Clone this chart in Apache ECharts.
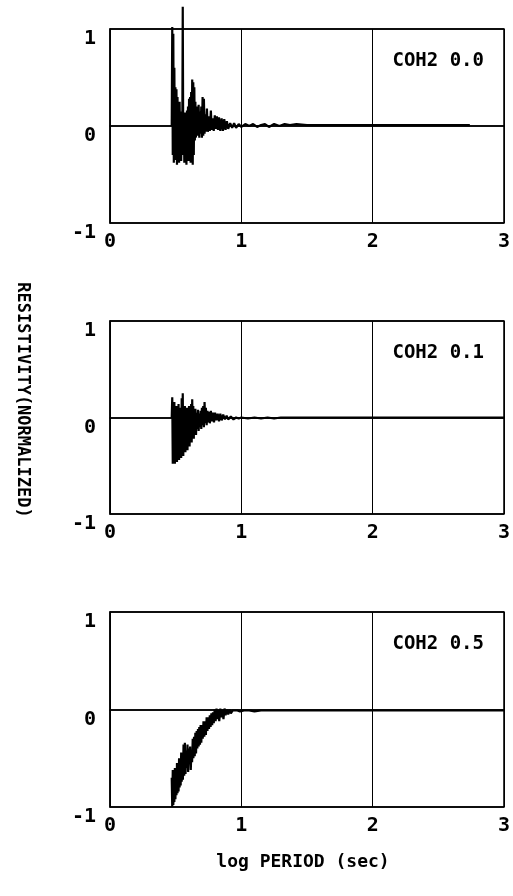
<!DOCTYPE html>
<html>
<head>
<meta charset="utf-8">
<script src="https://cdn.jsdelivr.net/npm/echarts@6/dist/echarts.min.js"></script>
<style>
  html, body { margin: 0; padding: 0; background: #fff; }
  #main { width: 513px; height: 896px; }
</style>
</head>
<body>
<div id="main"></div>
<script>
// 三个面板：COH2 0.0 / 0.1 / 0.5
var panelNames = ['COH2 0.0', 'COH2 0.1', 'COH2 0.5'];
var xTicks = [0, 1, 2, 3];
var yTicks = [-1, 0, 1];

// [log period, normalized resistivity]
var coh00 = [
  [0.470, 0.00], [0.474, 1.02], [0.478, -0.30], [0.482, 0.95], [0.486, -0.38],
  [0.490, 0.60], [0.494, -0.35], [0.498, 0.40], [0.502, -0.25], [0.506, 0.38],
  [0.510, -0.40], [0.514, 0.30], [0.518, -0.32], [0.522, 0.18], [0.526, -0.38],
  [0.530, 0.25], [0.534, -0.20], [0.538, 0.12], [0.542, -0.36], [0.546, 0.15],
  [0.550, -0.25], [0.554, 1.23], [0.558, -0.30], [0.562, 0.10], [0.566, -0.38],
  [0.570, 0.14], [0.574, -0.22], [0.578, 0.12], [0.582, -0.40], [0.586, 0.16],
  [0.590, -0.30], [0.594, 0.20], [0.598, -0.36], [0.602, 0.28], [0.606, -0.20],
  [0.610, 0.30], [0.614, -0.38], [0.618, 0.35], [0.622, -0.25], [0.626, 0.48],
  [0.630, -0.40], [0.634, 0.45], [0.638, -0.30], [0.642, 0.40], [0.646, -0.15],
  [0.650, 0.25], [0.654, -0.12], [0.658, 0.20], [0.662, -0.08], [0.666, 0.12],
  [0.670, -0.10], [0.675, 0.22], [0.680, -0.12], [0.685, 0.15], [0.690, -0.08],
  [0.695, 0.20], [0.700, -0.12], [0.705, 0.30], [0.710, -0.10], [0.715, 0.28],
  [0.720, -0.08], [0.725, 0.12], [0.730, -0.06], [0.738, 0.18], [0.745, -0.06],
  [0.752, 0.10], [0.760, -0.05], [0.768, 0.16], [0.775, -0.04], [0.783, 0.08],
  [0.790, -0.05], [0.798, 0.11], [0.806, -0.03], [0.814, 0.10], [0.822, -0.04],
  [0.830, 0.09], [0.840, -0.05], [0.850, 0.08], [0.860, -0.05], [0.870, 0.07],
  [0.880, -0.04], [0.890, 0.05], [0.900, -0.03], [0.915, 0.03], [0.930, -0.02],
  [0.945, 0.03], [0.960, -0.02], [0.980, 0.02], [1.000, -0.01], [1.03, 0.02],
  [1.06, 0.00], [1.09, 0.02], [1.12, -0.01], [1.15, 0.01], [1.18, 0.02],
  [1.21, -0.01], [1.25, 0.02], [1.29, 0.00], [1.33, 0.02], [1.37, 0.01],
  [1.42, 0.02], [1.50, 0.01], [1.60, 0.01], [1.70, 0.01], [1.80, 0.01],
  [1.90, 0.01], [2.00, 0.01], [2.20, 0.01], [2.40, 0.01], [2.60, 0.01], [2.74, 0.01]
];

var coh01 = [
  [0.470, 0.00], [0.474, 0.21], [0.478, -0.48], [0.482, 0.10], [0.486, -0.45],
  [0.490, 0.16], [0.494, -0.48], [0.498, 0.05], [0.502, -0.40], [0.506, 0.12],
  [0.510, -0.46], [0.514, 0.08], [0.518, -0.35], [0.522, 0.14], [0.526, -0.44],
  [0.530, 0.06], [0.534, -0.38], [0.538, 0.10], [0.542, -0.42], [0.546, 0.20],
  [0.550, -0.30], [0.554, 0.25], [0.558, -0.40], [0.562, 0.08], [0.566, -0.32],
  [0.570, 0.12], [0.574, -0.36], [0.578, 0.05], [0.582, -0.28], [0.586, 0.10],
  [0.590, -0.34], [0.594, 0.06], [0.598, -0.25], [0.602, 0.12], [0.606, -0.30],
  [0.610, 0.08], [0.614, -0.22], [0.618, 0.14], [0.622, -0.26], [0.626, 0.19],
  [0.630, -0.18], [0.634, 0.12], [0.638, -0.22], [0.642, 0.06], [0.646, -0.15],
  [0.650, 0.09], [0.655, -0.18], [0.660, 0.05], [0.665, -0.12], [0.670, 0.08],
  [0.675, -0.14], [0.680, 0.04], [0.685, -0.10], [0.690, 0.07], [0.695, -0.12],
  [0.700, 0.10], [0.705, -0.08], [0.710, 0.12], [0.715, -0.10], [0.720, 0.16],
  [0.725, -0.06], [0.730, 0.10], [0.736, -0.08], [0.742, 0.07], [0.748, -0.05],
  [0.754, 0.06], [0.760, -0.06], [0.768, 0.07], [0.776, -0.04], [0.784, 0.05],
  [0.792, -0.05], [0.800, 0.05], [0.810, -0.03], [0.820, 0.04], [0.830, -0.04],
  [0.840, 0.04], [0.850, -0.03], [0.862, 0.03], [0.875, -0.02], [0.888, 0.02],
  [0.900, -0.02], [0.920, 0.01], [0.940, -0.02], [0.960, 0.00], [0.980, -0.01],
  [1.00, 0.00], [1.05, -0.01], [1.10, 0.00], [1.15, -0.01], [1.20, 0.00],
  [1.25, -0.01], [1.30, 0.00], [1.40, 0.00], [1.60, 0.00], [1.80, 0.00],
  [2.00, 0.00], [2.30, 0.00], [2.60, 0.00], [3.00, 0.00]
];

var coh05 = [
  [0.470, -0.70], [0.474, -1.00], [0.478, -0.62], [0.482, -0.98], [0.486, -0.66],
  [0.490, -0.95], [0.494, -0.60], [0.498, -0.92], [0.502, -0.64], [0.506, -0.88],
  [0.510, -0.55], [0.514, -0.86], [0.518, -0.58], [0.522, -0.84], [0.526, -0.50],
  [0.530, -0.80], [0.534, -0.54], [0.538, -0.78], [0.542, -0.44], [0.546, -0.74],
  [0.550, -0.48], [0.555, -0.72], [0.560, -0.36], [0.565, -0.68], [0.570, -0.34],
  [0.575, -0.66], [0.580, -0.42], [0.585, -0.60], [0.590, -0.36], [0.595, -0.64],
  [0.600, -0.40], [0.605, -0.56], [0.610, -0.38], [0.615, -0.62], [0.620, -0.42],
  [0.625, -0.54], [0.630, -0.30], [0.635, -0.50], [0.640, -0.28], [0.645, -0.48],
  [0.650, -0.24], [0.655, -0.45], [0.660, -0.22], [0.665, -0.40], [0.670, -0.20],
  [0.675, -0.38], [0.680, -0.18], [0.685, -0.36], [0.690, -0.16], [0.695, -0.34],
  [0.700, -0.16], [0.706, -0.30], [0.712, -0.12], [0.718, -0.28], [0.724, -0.12],
  [0.730, -0.26], [0.736, -0.08], [0.742, -0.22], [0.748, -0.08], [0.754, -0.20],
  [0.760, -0.06], [0.766, -0.18], [0.772, -0.04], [0.778, -0.16], [0.784, -0.03],
  [0.790, -0.14], [0.797, 0.00], [0.804, -0.12], [0.811, 0.01], [0.818, -0.10],
  [0.825, 0.00], [0.832, -0.12], [0.840, 0.01], [0.848, -0.08], [0.856, 0.00],
  [0.864, -0.10], [0.872, 0.01], [0.880, -0.06], [0.890, 0.00], [0.900, -0.05],
  [0.910, 0.00], [0.920, -0.04], [0.935, -0.01], [0.950, -0.03], [0.970, -0.01],
  [0.990, -0.02], [1.02, -0.01], [1.06, -0.01], [1.10, -0.02], [1.15, -0.01],
  [1.20, -0.01], [1.40, -0.01], [1.60, -0.01], [1.80, -0.01], [2.00, -0.01],
  [2.30, -0.01], [2.60, -0.01], [3.00, -0.01]
];

var panelData = [coh00, coh01, coh05];

var FONT = 'DejaVu Sans Mono';
var gridTops = [29, 321, 612];
var gridHeights = [194, 193, 195];

var myChart = echarts.init(document.getElementById('main'));

var grids = [], xAxes = [], yAxes = [], series = [], titles = [];
for (var i = 0; i < 3; i++) {
    grids.push({
        left: 110, right: 7, top: gridTops[i], height: gridHeights[i],
        show: true, borderColor: '#000', borderWidth: 1.5, backgroundColor: '#fff'
    });
    xAxes.push({
        type: 'value', gridIndex: i, min: xTicks[0], max: xTicks[xTicks.length - 1], interval: 1,
        axisLine: { show: true, lineStyle: { color: '#000', width: 1.5 } },
        axisTick: { show: false },
        splitLine: { show: true, lineStyle: { color: '#000', width: 1 } },
        axisLabel: { color: '#000', fontFamily: FONT, fontWeight: 'bold', fontSize: 20, margin: 9 }
    });
    yAxes.push({
        type: 'value', gridIndex: i, min: yTicks[0], max: yTicks[yTicks.length - 1], interval: 1,
        axisLine: { show: true, lineStyle: { color: '#000', width: 1.5 } },
        axisTick: { show: false },
        splitLine: { show: true, lineStyle: { color: '#000', width: 1.5 } },
        axisLabel: {
            color: '#000', fontFamily: FONT, fontWeight: 'bold', fontSize: 20, margin: 14,
            verticalAlign: 'top'
        }
    });
    series.push({
        name: panelNames[i],
        type: 'line',
        xAxisIndex: i, yAxisIndex: i,
        data: panelData[i],
        showSymbol: false,
        clip: false,
        lineStyle: { color: '#000', width: 2.2 }
    });
    titles.push({
        text: panelNames[i],
        right: 24, top: gridTops[i] + 18,
        textStyle: { color: '#000', fontFamily: FONT, fontWeight: 'bold', fontSize: 19 }
    });
}

option = {
    backgroundColor: '#fff',
    animation: false,
    title: titles,
    grid: grids,
    xAxis: xAxes,
    yAxis: yAxes,
    series: series,
    graphic: [
        {
            type: 'text', x: 22, y: 400, rotation: -Math.PI / 2,
            style: {
                text: 'RESISTIVITY(NORMALIZED)', fill: '#000',
                font: 'bold 17px "DejaVu Sans Mono"',
                textAlign: 'center', textVerticalAlign: 'middle'
            }
        },
        {
            type: 'text', x: 303, y: 862,
            style: {
                text: 'log PERIOD (sec)', fill: '#000',
                font: 'bold 18px "DejaVu Sans Mono"',
                textAlign: 'center', textVerticalAlign: 'middle'
            }
        }
    ]
};

myChart.setOption(option);
</script>
</body>
</html>
